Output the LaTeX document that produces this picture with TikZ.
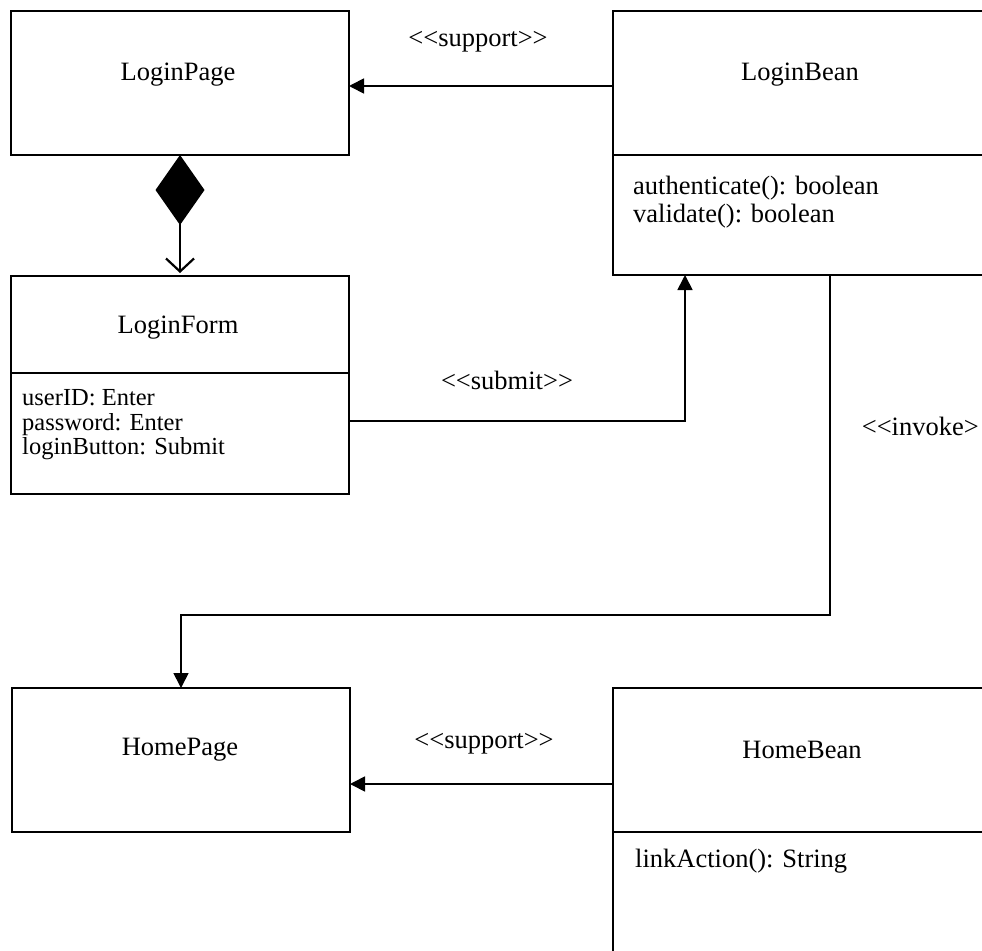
\documentclass[tikz,border=0pt]{standalone}
\usepackage{fontspec}
\setmainfont{Liberation Serif}
\usetikzlibrary{arrows.meta,calc}
\newcommand\stl{<\kern0pt<}
\newcommand\strr{>\kern0pt>}
\begin{document}
\begin{tikzpicture}[x=1pt,y=-1pt,
  box/.style={draw, line width=1.7pt, anchor=north west, inner sep=0pt, outer sep=0pt},
  txt/.style={font=\fontsize{26.5}{28}\selectfont, inner sep=0pt},
  conn/.style={line width=1.7pt},
  arr/.style={conn, -{Triangle[length=15pt,width=15pt]}}]
\fill[white] (0,0) rectangle (982,950);
\useasboundingbox (0,0) rectangle (982,950);
% boxes
\node[box, minimum width=338pt, minimum height=144pt] (lp) at (11,11) {};
\node[box, minimum width=380pt, minimum height=264pt] (lb) at (613,11) {};
\node[box, minimum width=338pt, minimum height=218pt] (lf) at (11,276) {};
\node[box, minimum width=338pt, minimum height=144pt] (hp) at (12,688) {};
\node[box, minimum width=380pt, minimum height=300pt] (hb) at (613,688) {};
% dividers
\draw[conn] ($(lb.north west)+(0,144)$) -- ($(lb.north east)+(0,144)$);
\draw[conn] ($(lf.north west)+(0,97)$) -- ($(lf.north east)+(0,97)$);
\draw[conn] ($(hb.north west)+(0,144)$) -- ($(hb.north east)+(0,144)$);
% texts
\node[txt] (tlp) at (178,75) {LoginPage};
\node[txt] (tlb) at (800,75) {LoginBean};
\node[txt, align=left, anchor=west] (mlb) at (633,202) {authenticate(): boolean\\validate(): boolean};
\node[txt] (tlf) at (178,328) {LoginForm};
\node[txt, align=left, anchor=west, font=\fontsize{24.5}{24.5}\selectfont] (alf) at (22,425) {userID: Enter\\password: Enter\\loginButton: Submit};
\node[txt] (thp) at (180,750) {HomePage};
\node[txt] (thb) at (802,750) {HomeBean};
\node[txt, anchor=west] (mhb) at (635,861) {linkAction(): String};
% labels
\node[txt] (s1) at (478,42) {\stl support\strr};
\node[txt] (s2) at (507,380) {\stl submit\strr};
\node[txt, anchor=east] (s3) at (979,426) {\stl invoke>};
\node[txt] (s4) at (484,744) {\stl support\strr};
% connectors
\draw[arr] ($(lb.north west)+(0,75)$) -- ($(lp.north east)+(0,75)$);
\draw[conn, {Diamond[length=70pt,width=49pt]}-{Straight Barb[length=13pt,width=28pt,line width=2.2pt]}] (lp.south) -- ($(lf.north)+(0,-3)$);
\draw[arr] ($(lf.north east)+(0,145)$) -| ($(lb.south west)+(72,0)$);
\draw[arr] ($(lb.south west)+(217,0)$) |- ($(hp.north)+(0,-73)$) -- (hp.north);
\draw[arr] ($(hb.north west)+(0,96)$) -- ($(hp.north east)+(0,96)$);
\end{tikzpicture}
\end{document}
